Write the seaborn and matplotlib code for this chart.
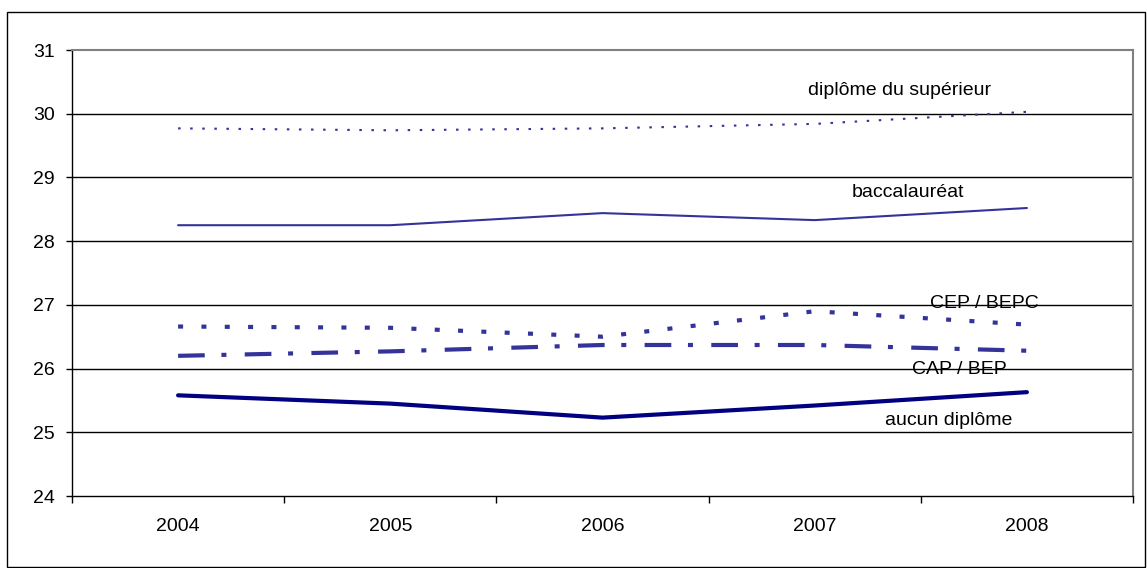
import matplotlib
matplotlib.use("Agg")
import matplotlib.pyplot as plt
from matplotlib.patches import Rectangle
from matplotlib.ticker import FixedLocator
import seaborn as sns
import pandas as pd

# ---- data ----
years = ["2004", "2005", "2006", "2007", "2008"]
sup = [29.77, 29.74, 29.77, 29.84, 30.03]
bac = [28.25, 28.25, 28.44, 28.33, 28.52]
cep = [26.66, 26.64, 26.50, 26.90, 26.69]
cap = [26.20, 26.27, 26.37, 26.37, 26.28]
aucun = [25.58, 25.45, 25.23, 25.42, 25.63]

series_names = ["diplôme du supérieur", "baccalauréat", "CEP / BEPC", "CAP / BEP", "aucun diplôme"]
series_values = [sup, bac, cep, cap, aucun]
yticks = [24, 25, 26, 27, 28, 29, 30, 31]

rows = []
for name, vals in zip(series_names, series_values):
    for i, (yr, v) in enumerate(zip(years, vals)):
        rows.append({"serie": name, "pos": i, "annee": yr, "valeur": v})
df = pd.DataFrame(rows)

sns.set_theme(style="white")
plt.rcParams["font.family"] = ["Liberation Sans", "DejaVu Sans"]

W, H = 1147, 568
fig = plt.figure(figsize=(W / 100, H / 100), dpi=100)
ax = fig.add_axes([72 / W, 1 - 496 / H, 1061 / W, 446 / H])

styles = {
    "diplôme du supérieur": dict(color="#333399", lw=1.5, dashes=(1.2, 4.6)),
    "baccalauréat": dict(color="#333399", lw=1.5, dashes=None),
    "CEP / BEPC": dict(color="#333399", lw=3.0, dashes=(1.2, 4.4)),
    "CAP / BEP": dict(color="#333399", lw=3.0, dashes=(6.4, 4.0, 1.2, 4.4)),
    "aucun diplôme": dict(color="#000080", lw=3.0, dashes=None),
}

for name in series_names:
    st = styles[name]
    sub = df[df["serie"] == name]
    sns.lineplot(data=sub, x="pos", y="valeur", ax=ax, color=st["color"],
                 linewidth=st["lw"], legend=False, zorder=3)
    line = ax.get_lines()[-1]
    if st["dashes"] is not None:
        line.set_dashes(st["dashes"])

# labels
labels = {
    "diplôme du supérieur": (3.40, 30.37),
    "baccalauréat": (3.44, 28.76),
    "CEP / BEPC": (3.80, 27.02),
    "CAP / BEP": (3.68, 25.99),
    "aucun diplôme": (3.63, 25.19),
}
for name, (x, y) in labels.items():
    ax.text(x, y, name, ha="center", va="center", fontsize=14, color="black", zorder=4)

ax.set_xlim(-0.5, len(years) - 0.5)
ax.set_ylim(24, 31)
ax.set_yticks(yticks)
ax.set_yticklabels([str(t) for t in yticks])
ax.set_xticks(range(len(years)))
ax.set_xticklabels(years)
ax.xaxis.set_minor_locator(FixedLocator([i - 0.5 for i in range(len(years) + 1)]))
ax.set_xlabel("")
ax.set_ylabel("")

ax.tick_params(axis="x", which="major", length=0, pad=16, labelsize=14, colors="black")
ax.tick_params(axis="x", which="minor", length=5, width=1, color="black", bottom=True)
ax.tick_params(axis="y", which="major", length=4.5, width=1, color="black", left=True,
               pad=8, labelsize=14, labelcolor="black")

ax.yaxis.grid(True, color="black", linewidth=1.0)
ax.xaxis.grid(False)
for gl, t in zip(ax.get_ygridlines(), yticks):
    if t in (24, 31):
        gl.set_visible(False)

for side in ["left", "bottom"]:
    ax.spines[side].set_color("black")
    ax.spines[side].set_linewidth(1.0)
for side in ["top", "right"]:
    ax.spines[side].set_color("#808080")
    ax.spines[side].set_linewidth(1.5)
for s in ax.spines.values():
    s.set_visible(True)

# outer chart border
fig.add_artist(Rectangle((7.5 / W, 1.5 / H), (1145 - 7.5) / W, (H - 11.5 - 1.5) / H,
                         fill=False, edgecolor="black", lw=1.0,
                         transform=fig.transFigure))

fig.savefig("out.png", dpi=100)
